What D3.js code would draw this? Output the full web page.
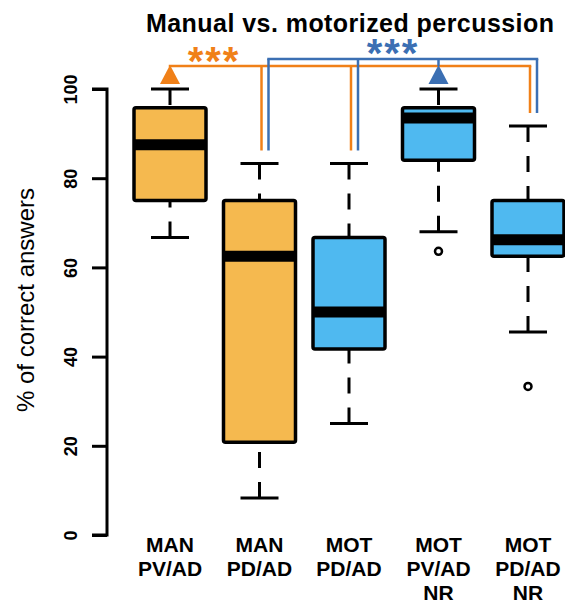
<!DOCTYPE html>
<html>
<head>
<meta charset="utf-8">
<script src="https://cdn.jsdelivr.net/npm/d3@7"></script>
<style>
  body { margin: 0; background: #fff; }
  text { font-family: 'Liberation Sans', Arial, sans-serif; }
</style>
</head>
<body>
<div id="chart"></div>
<script>
// box statistics
const groups = ['MAN PV/AD', 'MAN PD/AD', 'MOT PD/AD', 'MOT PV/AD NR', 'MOT PD/AD NR']
const labelLines = [['MAN', 'PV/AD'], ['MAN', 'PD/AD'], ['MOT', 'PD/AD'], ['MOT', 'PV/AD', 'NR'], ['MOT', 'PD/AD', 'NR']]
const whiskLow = [66.7, 8.3, 25, 68, 45.5]
const q1 = [75, 20.8, 41.7, 84, 62.5]
const median = [87.5, 62.5, 50, 93.5, 66.2]
const q3 = [95.8, 75, 66.7, 95.8, 75]
const whiskHigh = [100, 83.3, 83.3, 100, 91.7]
const outliers = [[], [], [], [63.6], [33.3]]
const method = ['MAN', 'MAN', 'MOT', 'MOT', 'MOT']
const yTicks = [0, 20, 40, 60, 80, 100]

// significance brackets: reference group -> compared groups
const orangeFrom = 0
const blueFrom = 3
const compared = [1, 2, 4]

const width = 565
const height = 604

const fillColor = { MAN: '#f5b94f', MOT: '#4fb9f0' }
const orange = '#f08018'
const blue = '#3b6fb3'

const svg = d3.select('#chart')
  .append('svg')
  .attr('width', width)
  .attr('height', height)

const x = d3.scalePoint().domain(groups).range([170, 528])
const y = d3.scaleLinear().domain([0, 100]).range([535, 89])

const boxW = 72
const capW = 38

// title
svg.append('text')
  .attr('x', 350)
  .attr('y', 32)
  .attr('text-anchor', 'middle')
  .style('font-size', '25px')
  .style('font-weight', 'bold')
  .attr('textLength', 408)
  .text('Manual vs. motorized percussion')

// y axis
const yAxis = d3.axisLeft(y).tickValues(yTicks).tickSize(15).tickPadding(0)
const ay = svg.append('g')
  .attr('transform', 'translate(107,0)')
  .call(yAxis)
ay.select('.domain').attr('stroke-width', 3).attr('d', 'M-15,' + y(0) + 'H0V' + y(100) + 'H-15')
ay.selectAll('.tick line').attr('stroke-width', 3)
ay.selectAll('.tick text')
  .attr('x', 0).attr('y', 0).attr('dy', 0)
  .attr('text-anchor', 'middle')
  .attr('transform', 'translate(-30,0) rotate(-90)')
  .style('font-size', '18px')
  .style('font-weight', 'bold')
  .style('font-family', "'Liberation Sans', Arial, sans-serif")
  .attr('fill', '#000')

svg.append('text')
  .attr('transform', 'translate(34,300) rotate(-90)')
  .attr('text-anchor', 'middle')
  .style('font-size', '24px')
  .text('% of correct answers')

// brackets (drawn before boxes)
function bracket (from, color, lineY, offset) {
  const g = svg.append('g')
  const xs = compared.map(i => x(groups[i]) + offset).concat([x(groups[from])])
  g.append('line')
    .attr('x1', d3.min(xs)).attr('x2', d3.max(xs))
    .attr('y1', lineY).attr('y2', lineY)
    .attr('stroke', color).attr('stroke-width', 2.5)
    .attr('stroke-linecap', 'square')
  compared.forEach(i => {
    g.append('line')
      .attr('x1', x(groups[i]) + offset).attr('x2', x(groups[i]) + offset)
      .attr('y1', lineY).attr('y2', y(whiskHigh[i]) - 13)
      .attr('stroke', color).attr('stroke-width', 2.5)
  })
  const cx = x(groups[from])
  const base = y(whiskHigh[from]) - 5
  g.append('line')
    .attr('x1', cx).attr('x2', cx)
    .attr('y1', lineY).attr('y2', base - 18)
    .attr('stroke', color).attr('stroke-width', 2.5)
  g.append('path')
    .attr('d', 'M' + cx + ',' + (base - 19) + 'L' + (cx + 10) + ',' + base + 'L' + (cx - 10) + ',' + base + 'Z')
    .attr('fill', color)
  return g
}
bracket(orangeFrom, orange, 66, 2)
bracket(blueFrom, blue, 59, 9)

svg.append('text')
  .attr('x', 214).attr('y', 75)
  .attr('text-anchor', 'middle')
  .attr('fill', orange)
  .style('font-size', '40px')
  .style('font-weight', 'bold')
  .style('letter-spacing', '2px')
  .text('***')
svg.append('text')
  .attr('x', 393).attr('y', 67)
  .attr('text-anchor', 'middle')
  .attr('fill', blue)
  .style('font-size', '40px')
  .style('font-weight', 'bold')
  .style('letter-spacing', '2px')
  .text('***')

// boxes
const boxes = svg.selectAll('.box')
  .data(groups)
  .enter()
  .append('g')
  .attr('class', 'box')
  .attr('transform', d => 'translate(' + x(d) + ',0)')

// whiskers, dashed from cap towards box
boxes.append('line')
  .attr('y1', (d, i) => y(whiskHigh[i])).attr('y2', (d, i) => y(q3[i]))
  .attr('stroke', '#000').attr('stroke-width', 3)
  .attr('stroke-dasharray', '16,14')
boxes.append('line')
  .attr('y1', (d, i) => y(whiskLow[i])).attr('y2', (d, i) => y(q1[i]))
  .attr('stroke', '#000').attr('stroke-width', 3)
  .attr('stroke-dasharray', '16,14')

// caps
boxes.append('line')
  .attr('x1', -capW / 2).attr('x2', capW / 2)
  .attr('y1', (d, i) => y(whiskHigh[i])).attr('y2', (d, i) => y(whiskHigh[i]))
  .attr('stroke', '#000').attr('stroke-width', 3)
boxes.append('line')
  .attr('x1', -capW / 2).attr('x2', capW / 2)
  .attr('y1', (d, i) => y(whiskLow[i])).attr('y2', (d, i) => y(whiskLow[i]))
  .attr('stroke', '#000').attr('stroke-width', 3)

boxes.append('rect')
  .attr('x', -boxW / 2)
  .attr('width', boxW)
  .attr('y', (d, i) => y(q3[i]))
  .attr('height', (d, i) => y(q1[i]) - y(q3[i]))
  .attr('rx', 2)
  .attr('fill', (d, i) => fillColor[method[i]])
  .attr('stroke', '#000')
  .attr('stroke-width', 3.5)

boxes.append('line')
  .attr('x1', -boxW / 2).attr('x2', boxW / 2)
  .attr('y1', (d, i) => y(median[i])).attr('y2', (d, i) => y(median[i]))
  .attr('stroke', '#000').attr('stroke-width', 11)

boxes.selectAll('circle')
  .data((d, i) => outliers[i])
  .enter()
  .append('circle')
  .attr('cy', d => y(d))
  .attr('r', 3.5)
  .attr('fill', '#fff')
  .attr('stroke', '#000')
  .attr('stroke-width', 2.5)

// category labels
const labels = svg.selectAll('.xlab')
  .data(groups)
  .enter()
  .append('text')
  .attr('class', 'xlab')
  .attr('text-anchor', 'middle')
  .style('font-size', '21px')
  .style('font-weight', 'bold')
labels.selectAll('tspan')
  .data((d, i) => labelLines[i].map(t => ({ t, g: d })))
  .enter()
  .append('tspan')
  .attr('x', d => x(d.g))
  .attr('y', (d, j) => 552 + j * 24)
  .text(d => d.t)
</script>
</body>
</html>
